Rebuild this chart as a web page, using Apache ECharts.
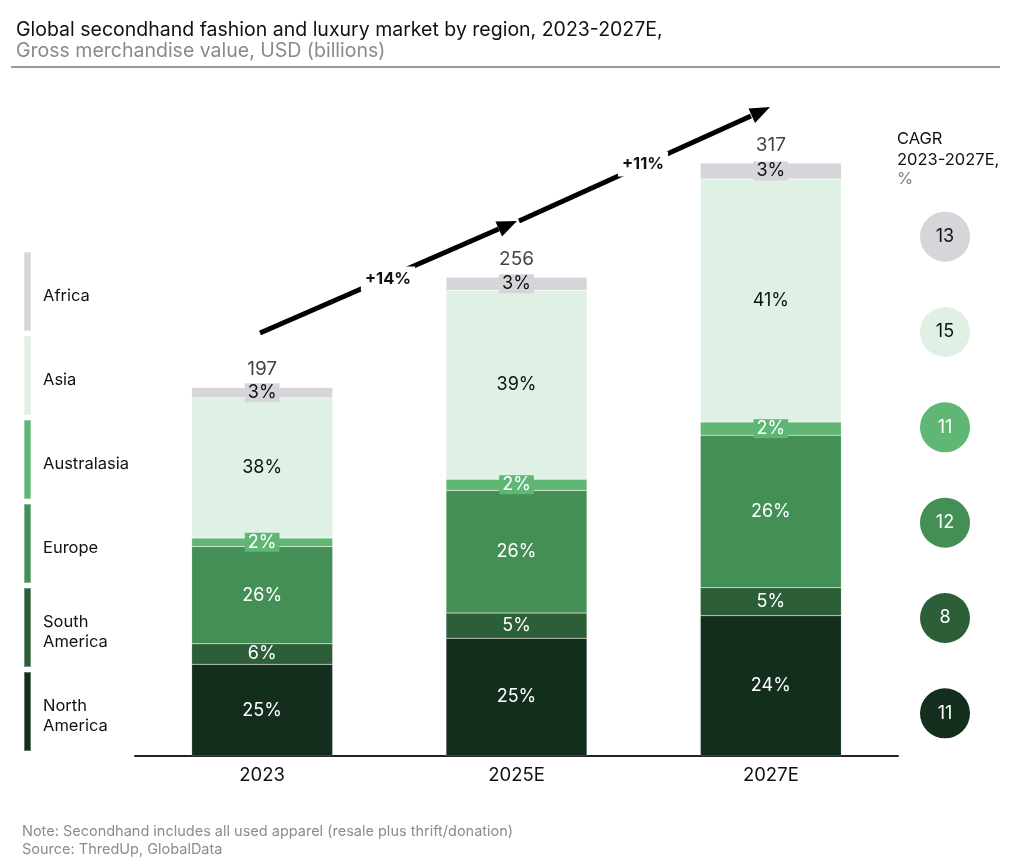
<!DOCTYPE html>
<html lang="en">
<head>
<meta charset="UTF-8">
<title>Global secondhand fashion and luxury market</title>
<script src="https://cdn.jsdelivr.net/npm/echarts@6/dist/echarts.min.js"></script>
<style>
    html, body { margin: 0; padding: 0; background: #fff; }
    #main { width: 1024px; height: 867px; }
</style>
</head>
<body>
<div id="main"></div>
<script>
    // data (USD billions)
    var years = ['2023', '2025E', '2027E'];
    var totals = [197, 256, 317];
    var northAmerica = [49, 63, 75];
    var southAmerica = [11, 13.5, 15];
    var europe = [52, 65.5, 81.5];
    var australasia = [4.5, 6, 7];
    var asia = [75, 101, 130];
    var africa = [5.5, 7, 8.5];

    // share labels printed on the bars
    var pctNorthAmerica = [25, 25, 24];
    var pctSouthAmerica = [6, 5, 5];
    var pctEurope = [26, 26, 26];
    var pctAustralasia = [2, 2, 2];
    var pctAsia = [38, 39, 41];
    var pctAfrica = [3, 3, 3];

    // CAGR 2023-2027E, top to bottom
    var regions = ['Africa', 'Asia', 'Australasia', 'Europe', 'South America', 'North America'];
    var cagr = [13, 15, 11, 12, 8, 11];

    var colors = {
        'Africa': '#d6d6da',
        'Asia': '#dff1e4',
        'Australasia': '#60b675',
        'Europe': '#438f56',
        'South America': '#2c5e38',
        'North America': '#142e1d'
    };
    var darkText = { 'Africa': true, 'Asia': true };

    var font = 'Inter, "Noto Sans", sans-serif';

    function barSeries(name, values, pcts, boxed) {
        return {
            name: name,
            type: 'bar',
            stack: 'total',
            barWidth: 141,
            data: values,
            itemStyle: { color: colors[name], borderColor: 'rgba(255,255,255,0.35)', borderWidth: 0.5 },
            label: {
                show: true,
                position: 'inside',
                fontFamily: font,
                fontSize: 18,
                color: darkText[name] ? '#111' : '#fff',
                backgroundColor: boxed ? colors[name] : 'transparent',
                padding: boxed ? [1, 3, 0, 3] : 0,
                formatter: function (p) { return pcts[p.dataIndex] + '%'; }
            }
        };
    }

    var chart = echarts.init(document.getElementById('main'));

    chart.setOption({
        animation: false,
        textStyle: { fontFamily: font },
        title: {
            left: 11,
            top: 15,
            text: 'Global secondhand fashion and luxury market by region, 2023-2027E,',
            subtext: 'Gross merchandise value, USD (billions)',
            itemGap: 1,
            textStyle: { fontFamily: font, fontSize: 19.5, fontWeight: 'normal', color: '#111' },
            subtextStyle: { fontFamily: font, fontSize: 19.5, color: '#8a8a8a' }
        },
        legend: {
            orient: 'vertical',
            left: 23,
            top: 251,
            padding: 0,
            icon: 'rect',
            itemWidth: 7,
            itemHeight: 79,
            itemGap: 3,
            selectedMode: false,
            data: regions,
            // a thin empty first line nudges the label a little below the bar centre
            formatter: function (name) {
                return '{pad| }\n' + name.split(' America').join('\n America').split('\n').map(function (s) {
                    return '{t|' + s.trim() + '}';
                }).join('\n');
            },
            textStyle: {
                padding: [0, 0, 0, 7],
                rich: {
                    pad: { fontSize: 1, lineHeight: 9, height: 9 },
                    t: { fontFamily: font, fontSize: 16.5, color: '#111', lineHeight: 20 }
                }
            }
        },
        grid: [
            { left: 135, right: 126, top: 120, bottom: 111 },
            { left: 920, right: 54, top: 189, bottom: 106 }
        ],
        xAxis: [
            {
                type: 'category',
                data: years,
                gridIndex: 0,
                axisLine: { lineStyle: { color: '#222', width: 2 } },
                axisTick: { show: false },
                axisLabel: { fontFamily: font, fontSize: 18.5, color: '#111', margin: 10 }
            },
            { type: 'value', gridIndex: 1, min: -1, max: 1, show: false }
        ],
        yAxis: [
            { type: 'value', gridIndex: 0, min: 0, max: 340, show: false },
            { type: 'category', gridIndex: 1, data: regions, inverse: true, show: false }
        ],
        series: [
            barSeries('North America', northAmerica, pctNorthAmerica, false),
            barSeries('South America', southAmerica, pctSouthAmerica, false),
            barSeries('Europe', europe, pctEurope, false),
            barSeries('Australasia', australasia, pctAustralasia, true),
            barSeries('Asia', asia, pctAsia, false),
            barSeries('Africa', africa, pctAfrica, true),
            {
                name: 'Total',
                type: 'scatter',
                data: totals,
                symbolSize: 1,
                itemStyle: { color: 'rgba(0,0,0,0)' },
                z: 5,
                label: {
                    show: true,
                    position: 'top',
                    distance: 8,
                    fontFamily: font,
                    fontSize: 19,
                    color: '#111',
                    formatter: '{c}'
                }
            },
            {
                name: 'CAGR',
                type: 'scatter',
                xAxisIndex: 1,
                yAxisIndex: 1,
                symbolSize: 50,
                data: regions.map(function (r, i) {
                    return {
                        value: [0, r, cagr[i]],
                        itemStyle: { color: colors[r], opacity: 1 },
                        label: { color: darkText[r] ? '#111' : '#fff' }
                    };
                }),
                label: {
                    show: true,
                    position: 'inside',
                    fontFamily: font,
                    fontSize: 18,
                    formatter: function (p) { return p.value[2]; }
                }
            }
        ],
        graphic: [
            { type: 'line', shape: { x1: 11, y1: 67, x2: 1000, y2: 67 }, style: { stroke: '#9a9a9a', lineWidth: 2 } },
            // CAGR header
            { type: 'text', left: 897, top: 129, style: { text: 'CAGR\n2023-2027E,', fontFamily: font, fontSize: 16.5, lineHeight: 21, fill: '#111' } },
            { type: 'text', left: 897, top: 171, style: { text: '%', fontFamily: font, fontSize: 16.5, fill: '#7a7a7a' } },
            // growth arrows
            { type: 'line', shape: { x1: 260, y1: 333, x2: 498.7, y2: 229 }, style: { stroke: '#000', lineWidth: 5 } },
            { type: 'polygon', shape: { points: [[517, 221], [502, 236.5], [495.5, 221.5]] }, style: { fill: '#000' } },
            { type: 'line', shape: { x1: 519, y1: 221, x2: 751, y2: 116 }, style: { stroke: '#000', lineWidth: 5 } },
            { type: 'polygon', shape: { points: [[770, 107], [755, 123], [748.5, 108.5]] }, style: { fill: '#000' } },
            {
                type: 'text', x: 388, y: 279, z: 10,
                style: { text: '+14%', fontFamily: font, fontSize: 16.5, fontWeight: 'bold', fill: '#111', align: 'center', verticalAlign: 'middle', backgroundColor: '#fff', padding: [4, 4] }
            },
            {
                type: 'text', x: 643, y: 164, z: 10,
                style: { text: '+11%', fontFamily: font, fontSize: 16.5, fontWeight: 'bold', fill: '#111', align: 'center', verticalAlign: 'middle', backgroundColor: '#fff', padding: [4, 4] }
            },
            // footnote
            {
                type: 'text', left: 22, top: 823,
                style: { text: 'Note: Secondhand includes all used apparel (resale plus thrift/donation)\nSource: ThredUp, GlobalData', fontFamily: font, fontSize: 14.5, lineHeight: 18, fill: '#8c8c8c' }
            }
        ]
    });
</script>
</body>
</html>
